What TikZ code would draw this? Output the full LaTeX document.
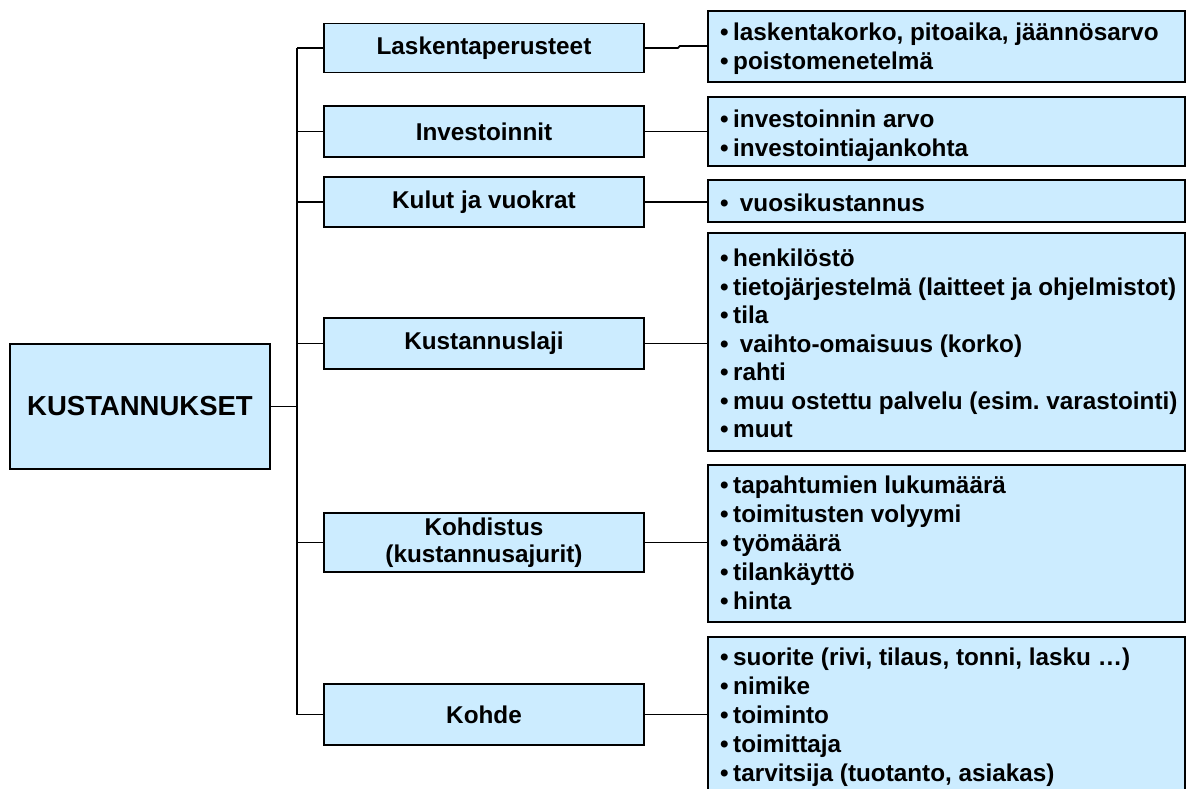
\documentclass[tikz,border=0pt]{standalone}
\usepackage{fontspec}
\setmainfont{Liberation Sans}
\definecolor{boxblue}{RGB}{204,236,255}
\newcommand\mybul{•\hspace{4.5pt}}
\begin{document}
\begin{tikzpicture}[x=1pt,y=-1pt,
  boxbase/.style={draw=black, line width=1.9pt, fill=boxblue, inner sep=0pt},
  rootbox/.style={boxbase, minimum width=260, minimum height=125,
     font=\bfseries\fontsize{27.5}{32}\selectfont},
  midbox/.style={boxbase, minimum width=320, align=center,
     font=\bfseries\fontsize{24.3}{27}\selectfont},
  listbox/.style={boxbase, minimum width=477},
  item/.style={anchor=base west, inner sep=0pt, font=\bfseries\fontsize{24.3}{29}\selectfont},
  conn/.style={line width=1.8pt}]
\useasboundingbox (0,0) rectangle (1188,788);
\clip (0,0) rectangle (1188,788);

\node[rootbox] (root) at (140,406.5) {KUSTANNUKSET};

\node[midbox, minimum height=49] (m1) at (484,48) {Laskentaperusteet};
\node[midbox, minimum height=51] (m2) at (484,131.5) {Investoinnit};
\node[midbox, minimum height=50] (m3) at (484,202) {Kulut ja vuokrat};
\node[midbox, minimum height=51] (m4) at (484,343.5) {Kustannuslaji};
\node[midbox, minimum height=59] (m5) at (484,542.5) {Kohdistus\\(kustannusajurit)};
\node[midbox, minimum height=61] (m6) at (484,714.5) {Kohde};

\node[listbox, minimum height=71] (r1) at (946.5,46.5) {};
\node[listbox, minimum height=69] (r2) at (946.5,131.5) {};
\node[listbox, minimum height=42] (r3) at (946.5,201) {};
\node[listbox, minimum height=218] (r4) at (946.5,342) {};
\node[listbox, minimum height=157] (r5) at (946.5,543.5) {};
\node[listbox, minimum height=160] (r6) at (946.5,717) {};

\node[item] (r1a) at (720,40.5) {\mybul laskentakorko, pitoaika, jäännösarvo};
\node[item] (r1b) at (720,69.5) {\mybul poistomenetelmä};
\node[item] (r2a) at (720,127.5) {\mybul investoinnin arvo};
\node[item] (r2b) at (720,156.5) {\mybul investointiajankohta};
\node[item] (r3a) at (720,211.5) {\mybul\ vuosikustannus};
\node[item] (r4a) at (720,266.5) {\mybul henkilöstö};
\node[item] (r4b) at (720,295) {\mybul tietojärjestelmä (laitteet ja ohjelmistot)};
\node[item] (r4c) at (720,323.5) {\mybul tila};
\node[item] (r4d) at (720,352) {\mybul\ vaihto-omaisuus (korko)};
\node[item] (r4e) at (720,380.5) {\mybul rahti};
\node[item] (r4f) at (720,409) {\mybul muu ostettu palvelu (esim.\ varastointi)};
\node[item] (r4g) at (720,437.5) {\mybul muut};
\node[item] (r5a) at (720,493.5) {\mybul tapahtumien lukumäärä};
\node[item] (r5b) at (720,522.5) {\mybul toimitusten volyymi};
\node[item] (r5c) at (720,551.5) {\mybul työmäärä};
\node[item] (r5d) at (720,580.5) {\mybul tilankäyttö};
\node[item] (r5e) at (720,609.5) {\mybul hinta};
\node[item] (r6a) at (720,665.5) {\mybul suorite (rivi, tilaus, tonni, lasku …)};
\node[item] (r6b) at (720,694.5) {\mybul nimike};
\node[item] (r6c) at (720,723.5) {\mybul toiminto};
\node[item] (r6d) at (720,752.5) {\mybul toimittaja};
\node[item] (r6e) at (720,781.5) {\mybul tarvitsija (tuotanto, asiakas)};

\coordinate (tx) at (297,0);
\draw[conn] (m1.west -| tx) -- (m6.west -| tx);
\draw[conn] (root.east) -- (root.east -| tx);
\foreach \m in {m1,m2,m3,m4,m5,m6} {
  \draw[conn] (\m.west) -- (\m.west -| tx);
}
\draw[conn] (m1.east) -- ++(33,0) -- ++(2,-2) -- (r1.west |- 0,46);
\draw[conn] (m2.east) -- (m2.east -| r2.west);
\draw[conn] (m3.east) -- (m3.east -| r3.west);
\draw[conn] (m4.east) -- (m4.east -| r4.west);
\draw[conn] (m5.east) -- (m5.east -| r5.west);
\draw[conn] (m6.east) -- (m6.east -| r6.west);
\end{tikzpicture}
\end{document}
